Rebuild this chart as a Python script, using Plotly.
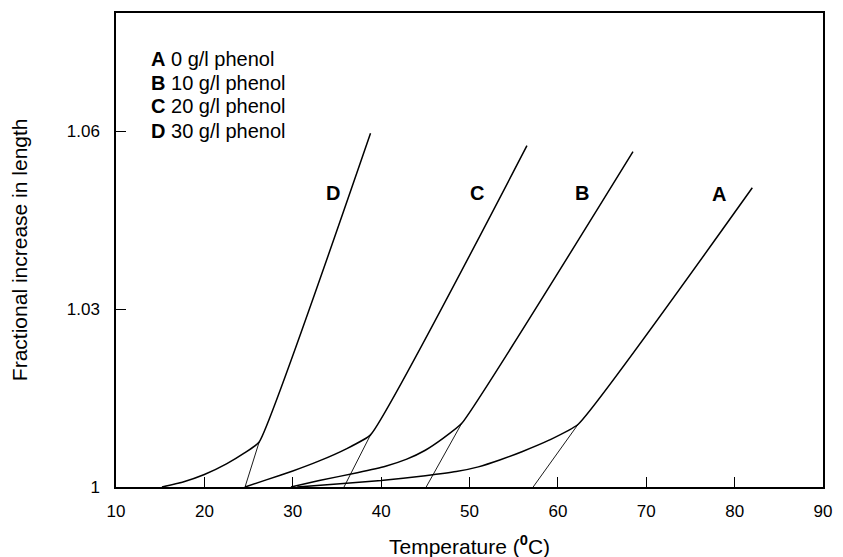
import plotly.graph_objects as go

# Thermal expansion of fibres in phenol solutions: fractional increase in length vs temperature
series_names = ["A", "B", "C", "D"]
series_legend = ["0 g/l phenol", "10 g/l phenol", "20 g/l phenol", "30 g/l phenol"]

temp_a = [30.5, 35.0, 40.0, 45.0, 48.5, 51.0, 53.5, 56.0, 59.0, 62.3, 82.0]
length_a = [1.0, 1.0005, 1.0011, 1.0019, 1.0026, 1.0034, 1.0046, 1.0060, 1.0079, 1.0106, 1.0505]

temp_b = [29.8, 33.0, 37.3, 40.5, 42.9, 45.0, 47.0, 49.1, 68.5]
length_b = [1.0, 1.0011, 1.0024, 1.0035, 1.0047, 1.0062, 1.0082, 1.0107, 1.0566]

temp_c = [24.6, 27.0, 30.0, 33.0, 36.0, 38.8, 56.5]
length_c = [1.0, 1.0012, 1.0027, 1.0044, 1.0064, 1.0088, 1.0576]

temp_d = [15.2, 17.5, 20.0, 22.5, 24.5, 26.2, 38.8]
length_d = [1.0, 1.0008, 1.0021, 1.0039, 1.0057, 1.0076, 1.0597]

# onset temperatures where the linear part extrapolates back to 1
onset_temp = [57.2, 45.1, 35.8, 24.6]

# position of the curve letters
label_temp = [78.2, 62.7, 50.9, 34.5]
label_length = [1.0494, 1.0496, 1.0496, 1.0496]

x_ticks = [10, 20, 30, 40, 50, 60, 70, 80, 90]
y_ticks = [1.0, 1.03, 1.06]
y_tick_text = ["1", "1.03", "1.06"]

FONT = "Liberation Sans, Arial, sans-serif"

fig = go.Figure()

curves = [(temp_a, length_a), (temp_b, length_b), (temp_c, length_c), (temp_d, length_d)]
for (t, l), onset in zip(curves, onset_temp):
    # thin extrapolation from the onset temperature to the start of the linear region
    fig.add_trace(go.Scatter(
        x=[onset, t[-2]], y=[1.0, l[-2]], mode="lines",
        line=dict(color="black", width=0.9), showlegend=False, hoverinfo="skip"))
    fig.add_trace(go.Scatter(
        x=t, y=l, mode="lines", line=dict(color="black", width=1.5, shape="spline", smoothing=0.4),
        showlegend=False))

for name, tx, ly in zip(series_names, label_temp, label_length):
    fig.add_annotation(x=tx, y=ly, xref="x", yref="y", text=f"<b>{name}</b>",
                       showarrow=False, font=dict(family=FONT, size=20, color="black"))

legend_y = [0.903, 0.853, 0.803, 0.752]
for name, desc, yy in zip(series_names, series_legend, legend_y):
    fig.add_annotation(x=0.046, y=yy, xref="paper", yref="paper", xanchor="left", yanchor="middle",
                       text=f"<b>{name}</b> {desc}", showarrow=False,
                       font=dict(family=FONT, size=20, color="black"))

fig.add_annotation(x=0.5, y=-0.122, xref="paper", yref="paper", xanchor="center", yanchor="middle",
                   text="Temperature (<sup><b>0</b></sup>C)", showarrow=False,
                   font=dict(family=FONT, size=21, color="black"))
fig.add_annotation(x=-0.137, y=0.5, xref="paper", yref="paper", xanchor="center", yanchor="middle",
                   text="Fractional increase in length", textangle=-90, showarrow=False,
                   font=dict(family=FONT, size=21, color="black"))

fig.update_xaxes(range=[10, 90], tickvals=x_ticks, ticks="inside", ticklen=10, tickwidth=1,
                 tickcolor="black", showline=True, linecolor="black", linewidth=1.5, mirror=True,
                 showgrid=False, zeroline=False, ticklabelstandoff=8,
                 tickfont=dict(family=FONT, size=17, color="black"))
fig.update_yaxes(range=[1.0, 1.08], tickvals=y_ticks, ticktext=y_tick_text, ticks="inside",
                 ticklen=10, tickwidth=1, tickcolor="black", showline=True, linecolor="black",
                 linewidth=1.5, mirror=True, showgrid=False, zeroline=False, ticklabelstandoff=11,
                 tickfont=dict(family=FONT, size=17, color="black"))

fig.update_layout(width=843, height=557, margin=dict(l=116, r=13, t=11, b=70),
                  plot_bgcolor="white", paper_bgcolor="white", showlegend=False)

fig.write_html("out.html")
